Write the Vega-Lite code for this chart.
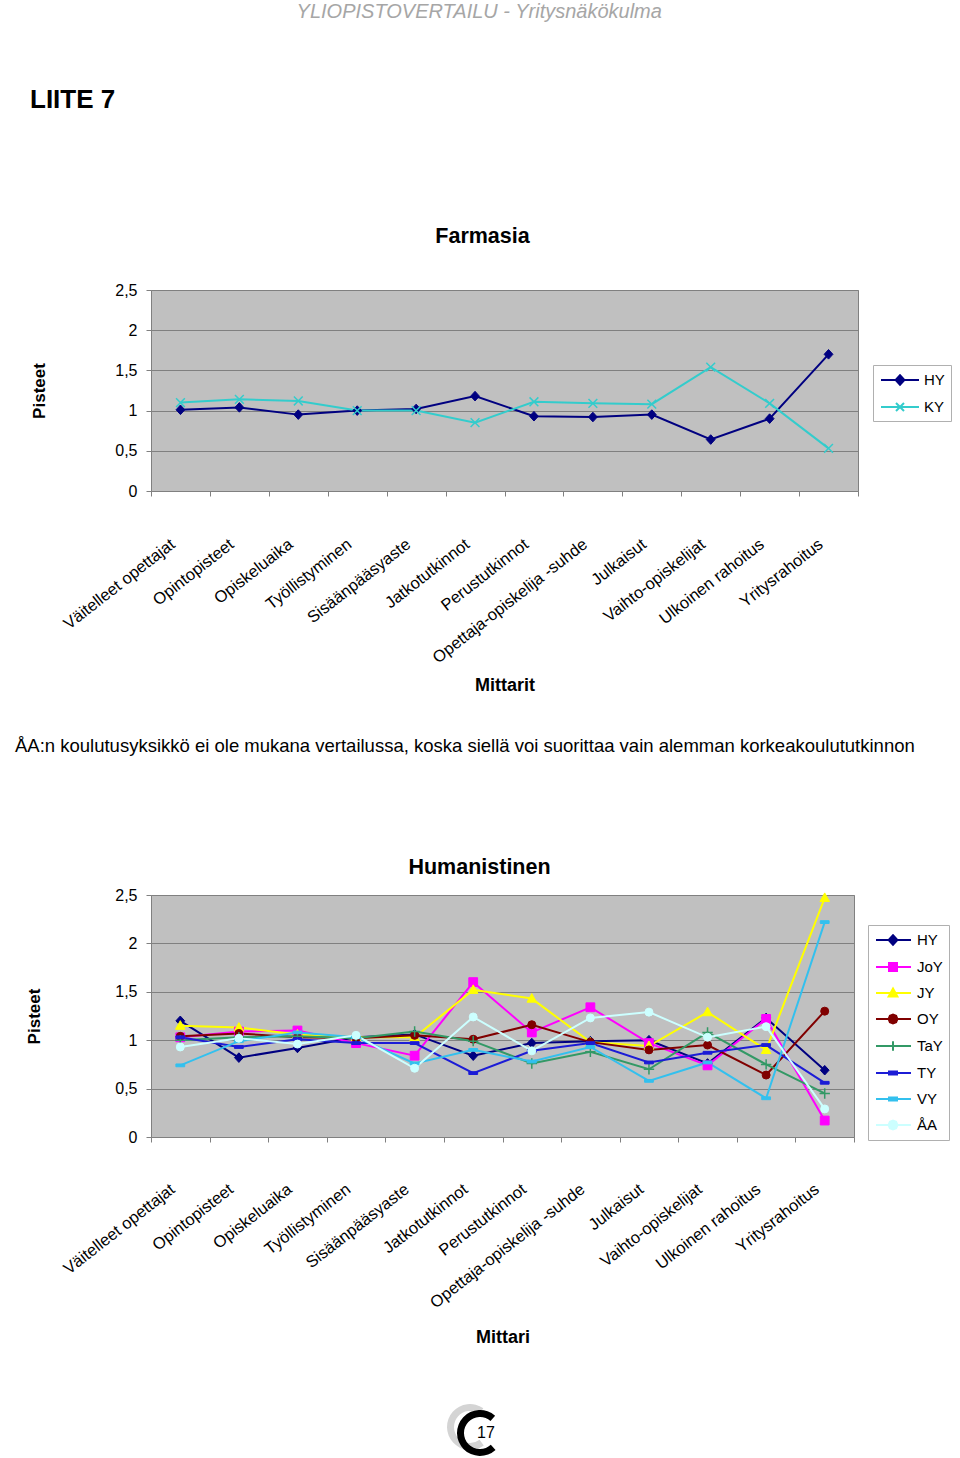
{
  "$schema": "https://vega.github.io/schema/vega-lite/v6.json",
  "background": "white",
  "padding": {"left": 15, "top": 2, "right": 5, "bottom": 0},
  "autosize": {"type": "pad"},
  "title": {"text": "YLIOPISTOVERTAILU - Yritysnäkökulma", "anchor": "middle", "frame": "bounds", "fontSize": 20, "fontStyle": "italic", "fontWeight": "normal", "color": "#a6a6a6", "offset": 65, "dx": -4},
  "datasets": {
    "farm": [
      {"mittari": "Väitelleet opettajat", "yliopisto": "HY", "pisteet": 1.01},
      {"mittari": "Opintopisteet", "yliopisto": "HY", "pisteet": 1.04},
      {"mittari": "Opiskeluaika", "yliopisto": "HY", "pisteet": 0.95},
      {"mittari": "Työllistyminen", "yliopisto": "HY", "pisteet": 1.0},
      {"mittari": "Sisäänpääsyaste", "yliopisto": "HY", "pisteet": 1.02},
      {"mittari": "Jatkotutkinnot", "yliopisto": "HY", "pisteet": 1.18},
      {"mittari": "Perustutkinnot", "yliopisto": "HY", "pisteet": 0.93},
      {"mittari": "Opettaja-opiskelija -suhde", "yliopisto": "HY", "pisteet": 0.92},
      {"mittari": "Julkaisut", "yliopisto": "HY", "pisteet": 0.95},
      {"mittari": "Vaihto-opiskelijat", "yliopisto": "HY", "pisteet": 0.64},
      {"mittari": "Ulkoinen rahoitus", "yliopisto": "HY", "pisteet": 0.9},
      {"mittari": "Yritysrahoitus", "yliopisto": "HY", "pisteet": 1.7},
      {"mittari": "Väitelleet opettajat", "yliopisto": "KY", "pisteet": 1.1},
      {"mittari": "Opintopisteet", "yliopisto": "KY", "pisteet": 1.14},
      {"mittari": "Opiskeluaika", "yliopisto": "KY", "pisteet": 1.12},
      {"mittari": "Työllistyminen", "yliopisto": "KY", "pisteet": 1.0},
      {"mittari": "Sisäänpääsyaste", "yliopisto": "KY", "pisteet": 1.0},
      {"mittari": "Jatkotutkinnot", "yliopisto": "KY", "pisteet": 0.85},
      {"mittari": "Perustutkinnot", "yliopisto": "KY", "pisteet": 1.11},
      {"mittari": "Opettaja-opiskelija -suhde", "yliopisto": "KY", "pisteet": 1.09},
      {"mittari": "Julkaisut", "yliopisto": "KY", "pisteet": 1.08},
      {"mittari": "Vaihto-opiskelijat", "yliopisto": "KY", "pisteet": 1.54},
      {"mittari": "Ulkoinen rahoitus", "yliopisto": "KY", "pisteet": 1.09},
      {"mittari": "Yritysrahoitus", "yliopisto": "KY", "pisteet": 0.53}
    ],
    "hum": [
      {"mittari": "Väitelleet opettajat", "yliopisto": "HY", "pisteet": 1.2},
      {"mittari": "Opintopisteet", "yliopisto": "HY", "pisteet": 0.82},
      {"mittari": "Opiskeluaika", "yliopisto": "HY", "pisteet": 0.92},
      {"mittari": "Työllistyminen", "yliopisto": "HY", "pisteet": 1.03},
      {"mittari": "Sisäänpääsyaste", "yliopisto": "HY", "pisteet": 1.06},
      {"mittari": "Jatkotutkinnot", "yliopisto": "HY", "pisteet": 0.84},
      {"mittari": "Perustutkinnot", "yliopisto": "HY", "pisteet": 0.97},
      {"mittari": "Opettaja-opiskelija -suhde", "yliopisto": "HY", "pisteet": 0.99},
      {"mittari": "Julkaisut", "yliopisto": "HY", "pisteet": 1.0},
      {"mittari": "Vaihto-opiskelijat", "yliopisto": "HY", "pisteet": 0.76},
      {"mittari": "Ulkoinen rahoitus", "yliopisto": "HY", "pisteet": 1.23},
      {"mittari": "Yritysrahoitus", "yliopisto": "HY", "pisteet": 0.69},
      {"mittari": "Väitelleet opettajat", "yliopisto": "JoY", "pisteet": 1.03},
      {"mittari": "Opintopisteet", "yliopisto": "JoY", "pisteet": 1.09},
      {"mittari": "Opiskeluaika", "yliopisto": "JoY", "pisteet": 1.1},
      {"mittari": "Työllistyminen", "yliopisto": "JoY", "pisteet": 0.97},
      {"mittari": "Sisäänpääsyaste", "yliopisto": "JoY", "pisteet": 0.84},
      {"mittari": "Jatkotutkinnot", "yliopisto": "JoY", "pisteet": 1.6},
      {"mittari": "Perustutkinnot", "yliopisto": "JoY", "pisteet": 1.08},
      {"mittari": "Opettaja-opiskelija -suhde", "yliopisto": "JoY", "pisteet": 1.34},
      {"mittari": "Julkaisut", "yliopisto": "JoY", "pisteet": 0.97},
      {"mittari": "Vaihto-opiskelijat", "yliopisto": "JoY", "pisteet": 0.74},
      {"mittari": "Ulkoinen rahoitus", "yliopisto": "JoY", "pisteet": 1.22},
      {"mittari": "Yritysrahoitus", "yliopisto": "JoY", "pisteet": 0.17},
      {"mittari": "Väitelleet opettajat", "yliopisto": "JY", "pisteet": 1.15},
      {"mittari": "Opintopisteet", "yliopisto": "JY", "pisteet": 1.13},
      {"mittari": "Opiskeluaika", "yliopisto": "JY", "pisteet": 1.06},
      {"mittari": "Työllistyminen", "yliopisto": "JY", "pisteet": 1.03},
      {"mittari": "Sisäänpääsyaste", "yliopisto": "JY", "pisteet": 1.03},
      {"mittari": "Jatkotutkinnot", "yliopisto": "JY", "pisteet": 1.52},
      {"mittari": "Perustutkinnot", "yliopisto": "JY", "pisteet": 1.43},
      {"mittari": "Opettaja-opiskelija -suhde", "yliopisto": "JY", "pisteet": 0.98},
      {"mittari": "Julkaisut", "yliopisto": "JY", "pisteet": 0.94},
      {"mittari": "Vaihto-opiskelijat", "yliopisto": "JY", "pisteet": 1.29},
      {"mittari": "Ulkoinen rahoitus", "yliopisto": "JY", "pisteet": 0.9},
      {"mittari": "Yritysrahoitus", "yliopisto": "JY", "pisteet": 2.47},
      {"mittari": "Väitelleet opettajat", "yliopisto": "OY", "pisteet": 1.04},
      {"mittari": "Opintopisteet", "yliopisto": "OY", "pisteet": 1.07},
      {"mittari": "Opiskeluaika", "yliopisto": "OY", "pisteet": 1.03},
      {"mittari": "Työllistyminen", "yliopisto": "OY", "pisteet": 1.02},
      {"mittari": "Sisäänpääsyaste", "yliopisto": "OY", "pisteet": 1.05},
      {"mittari": "Jatkotutkinnot", "yliopisto": "OY", "pisteet": 1.01},
      {"mittari": "Perustutkinnot", "yliopisto": "OY", "pisteet": 1.16},
      {"mittari": "Opettaja-opiskelija -suhde", "yliopisto": "OY", "pisteet": 0.98},
      {"mittari": "Julkaisut", "yliopisto": "OY", "pisteet": 0.9},
      {"mittari": "Vaihto-opiskelijat", "yliopisto": "OY", "pisteet": 0.95},
      {"mittari": "Ulkoinen rahoitus", "yliopisto": "OY", "pisteet": 0.64},
      {"mittari": "Yritysrahoitus", "yliopisto": "OY", "pisteet": 1.3},
      {"mittari": "Väitelleet opettajat", "yliopisto": "TaY", "pisteet": 1.0},
      {"mittari": "Opintopisteet", "yliopisto": "TaY", "pisteet": 1.03},
      {"mittari": "Opiskeluaika", "yliopisto": "TaY", "pisteet": 1.04},
      {"mittari": "Työllistyminen", "yliopisto": "TaY", "pisteet": 1.02},
      {"mittari": "Sisäänpääsyaste", "yliopisto": "TaY", "pisteet": 1.09},
      {"mittari": "Jatkotutkinnot", "yliopisto": "TaY", "pisteet": 0.99},
      {"mittari": "Perustutkinnot", "yliopisto": "TaY", "pisteet": 0.76},
      {"mittari": "Opettaja-opiskelija -suhde", "yliopisto": "TaY", "pisteet": 0.88},
      {"mittari": "Julkaisut", "yliopisto": "TaY", "pisteet": 0.7},
      {"mittari": "Vaihto-opiskelijat", "yliopisto": "TaY", "pisteet": 1.08},
      {"mittari": "Ulkoinen rahoitus", "yliopisto": "TaY", "pisteet": 0.75},
      {"mittari": "Yritysrahoitus", "yliopisto": "TaY", "pisteet": 0.45},
      {"mittari": "Väitelleet opettajat", "yliopisto": "TY", "pisteet": 1.03},
      {"mittari": "Opintopisteet", "yliopisto": "TY", "pisteet": 0.93},
      {"mittari": "Opiskeluaika", "yliopisto": "TY", "pisteet": 1.01},
      {"mittari": "Työllistyminen", "yliopisto": "TY", "pisteet": 0.97},
      {"mittari": "Sisäänpääsyaste", "yliopisto": "TY", "pisteet": 0.97},
      {"mittari": "Jatkotutkinnot", "yliopisto": "TY", "pisteet": 0.66},
      {"mittari": "Perustutkinnot", "yliopisto": "TY", "pisteet": 0.89},
      {"mittari": "Opettaja-opiskelija -suhde", "yliopisto": "TY", "pisteet": 0.97},
      {"mittari": "Julkaisut", "yliopisto": "TY", "pisteet": 0.77},
      {"mittari": "Vaihto-opiskelijat", "yliopisto": "TY", "pisteet": 0.87},
      {"mittari": "Ulkoinen rahoitus", "yliopisto": "TY", "pisteet": 0.95},
      {"mittari": "Yritysrahoitus", "yliopisto": "TY", "pisteet": 0.56},
      {"mittari": "Väitelleet opettajat", "yliopisto": "VY", "pisteet": 0.74},
      {"mittari": "Opintopisteet", "yliopisto": "VY", "pisteet": 0.99},
      {"mittari": "Opiskeluaika", "yliopisto": "VY", "pisteet": 1.08},
      {"mittari": "Työllistyminen", "yliopisto": "VY", "pisteet": 1.03},
      {"mittari": "Sisäänpääsyaste", "yliopisto": "VY", "pisteet": 0.76},
      {"mittari": "Jatkotutkinnot", "yliopisto": "VY", "pisteet": 0.9},
      {"mittari": "Perustutkinnot", "yliopisto": "VY", "pisteet": 0.78},
      {"mittari": "Opettaja-opiskelija -suhde", "yliopisto": "VY", "pisteet": 0.93},
      {"mittari": "Julkaisut", "yliopisto": "VY", "pisteet": 0.58},
      {"mittari": "Vaihto-opiskelijat", "yliopisto": "VY", "pisteet": 0.77},
      {"mittari": "Ulkoinen rahoitus", "yliopisto": "VY", "pisteet": 0.4},
      {"mittari": "Yritysrahoitus", "yliopisto": "VY", "pisteet": 2.22},
      {"mittari": "Väitelleet opettajat", "yliopisto": "ÅA", "pisteet": 0.93},
      {"mittari": "Opintopisteet", "yliopisto": "ÅA", "pisteet": 1.02},
      {"mittari": "Opiskeluaika", "yliopisto": "ÅA", "pisteet": 0.96},
      {"mittari": "Työllistyminen", "yliopisto": "ÅA", "pisteet": 1.05},
      {"mittari": "Sisäänpääsyaste", "yliopisto": "ÅA", "pisteet": 0.71},
      {"mittari": "Jatkotutkinnot", "yliopisto": "ÅA", "pisteet": 1.24},
      {"mittari": "Perustutkinnot", "yliopisto": "ÅA", "pisteet": 0.89},
      {"mittari": "Opettaja-opiskelija -suhde", "yliopisto": "ÅA", "pisteet": 1.23},
      {"mittari": "Julkaisut", "yliopisto": "ÅA", "pisteet": 1.29},
      {"mittari": "Vaihto-opiskelijat", "yliopisto": "ÅA", "pisteet": 1.03},
      {"mittari": "Ulkoinen rahoitus", "yliopisto": "ÅA", "pisteet": 1.14},
      {"mittari": "Yritysrahoitus", "yliopisto": "ÅA", "pisteet": 0.29}
    ]
  },
  "spacing": 41,
  "resolve": {"scale": {"x": "independent", "y": "independent", "color": "independent"}, "legend": {"color": "independent"}},
  "vconcat": [
    {
      "title": {"text": "LIITE 7", "anchor": "start", "frame": "group", "dx": -121, "fontSize": 26, "fontWeight": "bold", "offset": 112, "color": "#000000"},
      "vconcat": [
        {
          "width": 707,
          "height": 201,
          "title": {"text": "Farmasia", "anchor": "middle", "fontSize": 21.5, "fontWeight": "bold", "offset": 35, "dx": -22, "color": "#000000"},
          "view": {"fill": "#C0C0C0", "stroke": "#808080"},
          "data": {"name": "farm"},
          "encoding": {
            "x": {"field": "mittari", "type": "nominal", "scale": {"type": "band", "paddingInner": 0, "paddingOuter": 0, "domain": ["Väitelleet opettajat", "Opintopisteet", "Opiskeluaika", "Työllistyminen", "Sisäänpääsyaste", "Jatkotutkinnot", "Perustutkinnot", "Opettaja-opiskelija -suhde", "Julkaisut", "Vaihto-opiskelijat", "Ulkoinen rahoitus", "Yritysrahoitus"]},
              "axis": {"title": "Mittarit", "labelAngle": -38, "labelAlign": "right", "labelBaseline": "middle", "labelPadding": 46, "labelOffset": -8, "labelFontSize": 16.5, "labelLimit": 0, "labelOverlap": false, "tickBand": "extent", "ticks": true, "tickSize": 5, "tickColor": "#808080", "domain": false, "grid": false, "titleFontSize": 18, "titleFontWeight": "bold", "titlePadding": 10}},
            "y": {"field": "pisteet", "type": "quantitative", "scale": {"domain": [0, 2.5], "nice": false, "zero": true},
              "axis": {"values": [0, 0.5, 1, 1.5, 2, 2.5], "labelExpr": "replace(format(datum.value, '~g'), '.', ',')", "labelFontSize": 16, "labelPadding": 9, "tickSize": 5, "tickColor": "#808080", "domain": false, "grid": true, "gridColor": "#808080", "gridWidth": 1, "title": "Pisteet", "titleFontSize": 17, "titleFontWeight": "bold", "titlePadding": 66}}
          },
          "layer": [
            {
              "mark": {"type": "line", "strokeWidth": 2},
              "encoding": {
                "color": {"field": "yliopisto", "type": "nominal", "scale": {"domain": ["HY", "KY"], "range": ["#000080", "#33CCCC"]},
                  "legend": {"orient": "none", "legendX": 722, "legendY": 75, "title": null, "padding": 6, "fillColor": "#ffffff", "strokeColor": "#b0b0b0", "symbolSize": 256, "symbolStrokeWidth": 2, "labelFontSize": 15, "labelOffset": 27, "rowPadding": 9,
                    "encode": {"symbols": {"update": {
                      "shape": {"signal": "['M-0.875,0L3.875,0M1.5,-0.6L2.05,0L1.5,0.6L0.95,0Z','M-0.875,0L3.875,0M1,-0.5L2,0.5M2,-0.5L1,0.5'][indexof(['HY','KY'], datum.value)]"},
                      "fill": {"signal": "['#000080','#33CCCC'][indexof(['HY','KY'], datum.value)]"}
                    }}}}}
              }
            },
            {"transform": [{"filter": {"field": "yliopisto", "equal": "HY"}}], "mark": {"type": "point", "shape": "M0,-1.2L1.1,0L0,1.2L-1.1,0Z", "filled": true, "fill": "#000080", "stroke": "#000080", "size": 64, "strokeWidth": 1, "opacity": 1}},
            {"transform": [{"filter": {"field": "yliopisto", "equal": "KY"}}], "mark": {"type": "point", "shape": "M-1.1,-1.1L1.1,1.1M1.1,-1.1L-1.1,1.1", "filled": false, "fill": null, "stroke": "#33CCCC", "size": 64, "strokeWidth": 1.5, "opacity": 1}}
          ]
        }
      ]
    },
    {
      "title": {"text": "ÅA:n koulutusyksikkö ei ole mukana vertailussa, koska siellä voi suorittaa vain alemman korkeakoulututkinnon", "anchor": "start", "frame": "group", "dx": -136, "fontSize": 18.5, "fontWeight": "normal", "offset": 101, "color": "#000000"},
      "spacing": 57,
      "resolve": {"scale": {"x": "independent", "y": "independent", "color": "independent"}},
      "vconcat": [
        {
          "width": 703,
          "height": 242,
          "title": {"text": "Humanistinen", "anchor": "middle", "fontSize": 21.5, "fontWeight": "bold", "offset": 9, "dx": -23, "color": "#000000"},
          "view": {"fill": "#C0C0C0", "stroke": "#808080"},
          "data": {"name": "hum"},
          "encoding": {
            "x": {"field": "mittari", "type": "nominal", "scale": {"type": "band", "paddingInner": 0, "paddingOuter": 0, "domain": ["Väitelleet opettajat", "Opintopisteet", "Opiskeluaika", "Työllistyminen", "Sisäänpääsyaste", "Jatkotutkinnot", "Perustutkinnot", "Opettaja-opiskelija -suhde", "Julkaisut", "Vaihto-opiskelijat", "Ulkoinen rahoitus", "Yritysrahoitus"]},
              "axis": {"title": "Mittari", "labelAngle": -38, "labelAlign": "right", "labelBaseline": "middle", "labelPadding": 45, "labelOffset": -8, "labelFontSize": 16.5, "labelLimit": 0, "labelOverlap": false, "tickBand": "extent", "ticks": true, "tickSize": 5, "tickColor": "#808080", "domain": false, "grid": false, "titleFontSize": 18, "titleFontWeight": "bold", "titlePadding": 17}},
            "y": {"field": "pisteet", "type": "quantitative", "scale": {"domain": [0, 2.5], "nice": false, "zero": true},
              "axis": {"values": [0, 0.5, 1, 1.5, 2, 2.5], "labelExpr": "replace(format(datum.value, '~g'), '.', ',')", "labelFontSize": 16, "labelPadding": 9, "tickSize": 5, "tickColor": "#808080", "domain": false, "grid": true, "gridColor": "#808080", "gridWidth": 1, "title": "Pisteet", "titleFontSize": 17, "titleFontWeight": "bold", "titlePadding": 71}}
          },
          "layer": [
            {
              "mark": {"type": "line", "strokeWidth": 2},
              "encoding": {
                "color": {"field": "yliopisto", "type": "nominal", "scale": {"domain": ["HY", "JoY", "JY", "OY", "TaY", "TY", "VY", "ÅA"], "range": ["#000080", "#FF00FF", "#FFFF00", "#800000", "#339966", "#1c1cd6", "#33C0EE", "#CCFFFF"]},
                  "legend": {"orient": "none", "legendX": 717, "legendY": 30, "title": null, "padding": 6, "fillColor": "#ffffff", "strokeColor": "#b0b0b0", "symbolSize": 256, "symbolStrokeWidth": 2, "labelFontSize": 15, "labelOffset": 25, "rowPadding": 9,
                    "encode": {"symbols": {"update": {
                      "shape": {"signal": "['M-0.875,0L3.5,0M1.25,-0.6L1.8,0L1.25,0.6L0.7,0Z','M-0.875,0L3.5,0M0.75,-0.5L1.75,-0.5L1.75,0.5L0.75,0.5Z','M-0.875,0L3.5,0M1.25,-0.55L1.8,0.45L0.7,0.45Z','M-0.875,0L3.5,0M1.8,0L1.64,0.39L1.25,0.55L0.86,0.39L0.7,0L0.86,-0.39L1.25,-0.55L1.64,-0.39Z','M-0.875,0L3.5,0M1.25,-0.6L1.25,0.6','M-0.875,0L3.5,0M0.75,-0.2L1.75,-0.2L1.75,0.2L0.75,0.2Z','M-0.875,0L3.5,0M0.75,-0.2L1.75,-0.2L1.75,0.2L0.75,0.2Z','M-0.875,0L3.5,0M1.8,0L1.64,0.39L1.25,0.55L0.86,0.39L0.7,0L0.86,-0.39L1.25,-0.55L1.64,-0.39Z'][indexof(['HY','JoY','JY','OY','TaY','TY','VY','ÅA'], datum.value)]"},
                      "fill": {"signal": "['#000080','#FF00FF','#FFFF00','#800000','#339966','#1c1cd6','#33C0EE','#CCFFFF'][indexof(['HY','JoY','JY','OY','TaY','TY','VY','ÅA'], datum.value)]"}
                    }}}}}
              }
            },
            {"transform": [{"filter": {"field": "yliopisto", "equal": "HY"}}], "mark": {"type": "point", "shape": "M0,-1.2L1.1,0L0,1.2L-1.1,0Z", "filled": true, "fill": "#000080", "stroke": "#000080", "size": 64, "strokeWidth": 1, "opacity": 1}},
            {"transform": [{"filter": {"field": "yliopisto", "equal": "JoY"}}], "mark": {"type": "point", "shape": "M-1.1,-1.1L1.1,-1.1L1.1,1.1L-1.1,1.1Z", "filled": true, "fill": "#FF00FF", "stroke": "#FF00FF", "size": 64, "strokeWidth": 1, "opacity": 1}},
            {"transform": [{"filter": {"field": "yliopisto", "equal": "JY"}}], "mark": {"type": "point", "shape": "M0,-1.25L1.2,0.9L-1.2,0.9Z", "filled": true, "fill": "#FFFF00", "stroke": "#FFFF00", "size": 64, "strokeWidth": 1, "opacity": 1}},
            {"transform": [{"filter": {"field": "yliopisto", "equal": "OY"}}], "mark": {"type": "point", "shape": "circle", "filled": true, "fill": "#800000", "stroke": "#800000", "size": 64, "strokeWidth": 1, "opacity": 1}},
            {"transform": [{"filter": {"field": "yliopisto", "equal": "TaY"}}], "mark": {"type": "point", "shape": "M-1.3,0L1.3,0M0,-1.3L0,1.3", "filled": false, "fill": null, "stroke": "#339966", "size": 64, "strokeWidth": 1.5, "opacity": 1}},
            {"transform": [{"filter": {"field": "yliopisto", "equal": "TY"}}], "mark": {"type": "point", "shape": "M-1.1,-0.35L1.1,-0.35L1.1,0.35L-1.1,0.35Z", "filled": true, "fill": "#1c1cd6", "stroke": "#1c1cd6", "size": 64, "strokeWidth": 1, "opacity": 1}},
            {"transform": [{"filter": {"field": "yliopisto", "equal": "VY"}}], "mark": {"type": "point", "shape": "M-1.1,-0.35L1.1,-0.35L1.1,0.35L-1.1,0.35Z", "filled": true, "fill": "#33C0EE", "stroke": "#33C0EE", "size": 64, "strokeWidth": 1, "opacity": 1}},
            {"transform": [{"filter": {"field": "yliopisto", "equal": "ÅA"}}], "mark": {"type": "point", "shape": "circle", "filled": true, "fill": "#CCFFFF", "stroke": "#CCFFFF", "size": 64, "strokeWidth": 1, "opacity": 1}}
          ]
        },
        {
          "width": 658,
          "height": 50,
          "view": {"stroke": null, "fill": null},
          "data": {"values": [{"sivu": "17"}]},
          "layer": [
            {"mark": {"type": "arc", "radius": 23, "radius2": 16, "theta": 2.5, "theta2": 6.9, "color": "#d4d4d4", "xOffset": -10, "yOffset": -6}, "encoding": {}},
            {"mark": {"type": "arc", "radius": 23, "radius2": 16, "theta": 2.4, "theta2": 7.0, "color": "#000000"}, "encoding": {}},
            {"mark": {"type": "text", "fontSize": 16, "dx": 6, "color": "#000000"}, "encoding": {"text": {"field": "sivu"}}}
          ]
        }
      ]
    }
  ],
  "config": {
    "font": "Liberation Sans",
    "axis": {"labelColor": "#000000", "titleColor": "#000000", "labelFont": "Liberation Sans", "titleFont": "Liberation Sans"},
    "legend": {"labelColor": "#000000", "labelFont": "Liberation Sans"},
    "title": {"font": "Liberation Sans", "color": "#000000"}
  }
}
